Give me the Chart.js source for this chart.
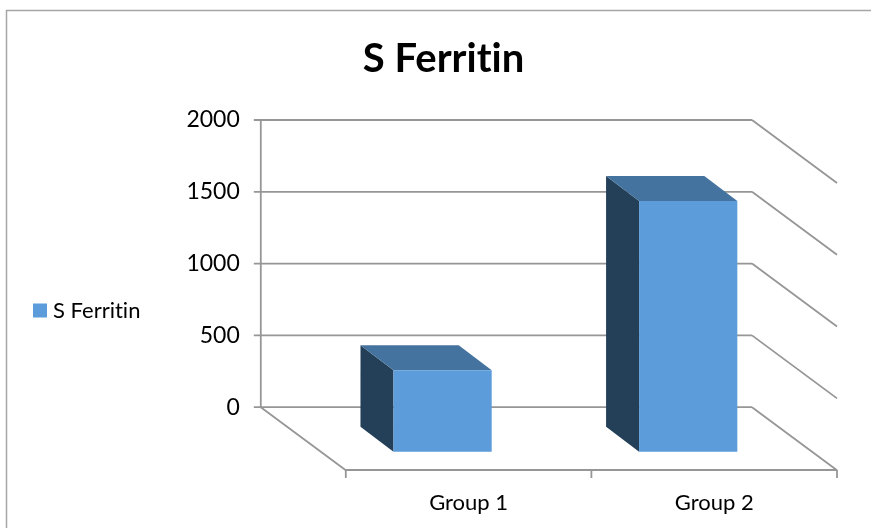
<!DOCTYPE html>
<html>
<head>
<meta charset="utf-8">
<style>
  html, body { margin: 0; padding: 0; background: #fff; }
  #wrap { width: 871px; height: 528px; position: relative; }
</style>
</head>
<body>
<div id="wrap"><canvas id="chart" width="871" height="528"></canvas></div>
<script src="https://cdn.jsdelivr.net/npm/chart.js@4"></script>
<script>
var categories = ["Group 1", "Group 2"];
var seriesName = "S Ferritin";
var ferritin = [570, 1750];
var yTicks = [0, 500, 1000, 1500, 2000];

var AXIS = "#969696";
// offsets of the fake 3D box, in px
var WALL_DX = -85, WALL_DY = -63;   // back wall relative to front floor edge
var BAR_DX = -26, BAR_DY = 45;      // front face of bar relative to scale position
var DEPTH_DX = -33, DEPTH_DY = -25; // bar depth

function line(ctx, x1, y1, x2, y2) {
    ctx.beginPath();
    ctx.moveTo(x1, y1);
    ctx.lineTo(x2, y2);
    ctx.stroke();
}

function poly(ctx, pts, color) {
    ctx.fillStyle = color;
    ctx.beginPath();
    pts.forEach(function (p, i) {
        if (i === 0) ctx.moveTo(p[0], p[1]); else ctx.lineTo(p[0], p[1]);
    });
    ctx.closePath();
    ctx.fill();
}

var box3d = {
    id: "box3d",
    afterLayout: function (chart) {
        // title is centred a bit right of the canvas, legend a bit under the plot middle
        chart.titleBlock.left += 18;
        chart.legend.top += 93;
    },
    beforeDatasetsDraw: function (chart) {
        var ctx = chart.ctx, x = chart.scales.x, y = chart.scales.y;
        var wallL = x.left + WALL_DX, wallR = x.right + WALL_DX;
        ctx.save();
        ctx.strokeStyle = AXIS;
        ctx.lineWidth = 1.8;
        // walls, floor and side lines
        yTicks.forEach(function (t) {
            var py = y.getPixelForValue(t);
            line(ctx, wallL - 7, py, wallR, py);
            line(ctx, wallR, py, x.right, py - WALL_DY);
        });
        var top = y.getPixelForValue(yTicks[yTicks.length - 1]);
        var zero = y.getPixelForValue(0);
        line(ctx, wallL, top, wallL, zero);
        line(ctx, wallL, zero, x.left, zero - WALL_DY);
        line(ctx, x.left, x.top, x.right, x.top);
        // category ticks on the front edge
        for (var i = 0; i <= categories.length; i++) {
            var px = x.left + (x.right - x.left) * i / categories.length;
            line(ctx, px, x.top, px, x.top + 8);
        }
        // side and top faces of the bars
        chart.getDatasetMeta(0).data.forEach(function (bar) {
            var l = bar.x - bar.width / 2 + BAR_DX, r = bar.x + bar.width / 2 + BAR_DX;
            var t = bar.y + BAR_DY, b = bar.base + BAR_DY;
            poly(ctx, [[l, t], [l + DEPTH_DX, t + DEPTH_DY], [l + DEPTH_DX, b + DEPTH_DY], [l, b]], "#243F58");
            poly(ctx, [[l, t], [l + DEPTH_DX, t + DEPTH_DY], [r + DEPTH_DX, t + DEPTH_DY], [r, t]], "#44739F");
        });
        ctx.restore();
    },
    beforeDatasetDraw: function (chart) {
        chart.ctx.save();
        chart.ctx.translate(BAR_DX, BAR_DY);
    },
    afterDatasetDraw: function (chart) {
        chart.ctx.restore();
    }
};

// outer frame of the picture
var frame = {
    id: "frame",
    beforeDraw: function (chart) {
        var ctx = chart.ctx;
        ctx.textRendering = "optimizeSpeed"; // no "ti" ligature in Lato
        ctx.save();
        ctx.strokeStyle = "#A6A6A6";
        ctx.lineWidth = 1.5;
        ctx.beginPath();
        ctx.moveTo(6.5, 528);
        ctx.lineTo(6.5, 10.5);
        ctx.lineTo(871, 10.5);
        ctx.stroke();
        ctx.restore();
    }
};

new Chart(document.getElementById("chart"), {
    type: "bar",
    plugins: [frame, box3d],
    data: {
        labels: categories,
        datasets: [{
            label: seriesName,
            data: ferritin,
            backgroundColor: "#5D9CDA",
            barPercentage: 0.4,
            categoryPercentage: 1,
            clip: false
        }]
    },
    options: {
        responsive: false,
        animation: false,
        layout: { padding: { top: 0, right: 34, bottom: 0, left: 32 } },
        plugins: {
            tooltip: { enabled: false },
            title: {
                display: true,
                text: seriesName,
                color: "#000",
                font: { family: "Lato", size: 40, weight: "bold" },
                padding: { top: 35, bottom: 37 }
            },
            legend: {
                position: "left",
                labels: {
                    color: "#000",
                    font: { family: "Lato", size: 22 },
                    boxWidth: 4,
                    boxHeight: 4,
                    padding: 6,
                    // thick outline so the text sits close to the swatch
                    generateLabels: function (chart) {
                        return Chart.defaults.plugins.legend.labels.generateLabels(chart).map(function (item) {
                            item.lineWidth = 10;
                            item.strokeStyle = item.fillStyle;
                            return item;
                        });
                    }
                }
            }
        },
        scales: {
            x: {
                grid: { display: false },
                border: { display: false },
                afterFit: function (axis) { axis.height = 58; },
                ticks: { color: "#000", font: { family: "Lato", size: 22 }, padding: 12 }
            },
            y: {
                min: -437.5,
                max: 2000,
                // long invisible tick pushes the labels left of the back wall
                grid: { display: true, drawOnChartArea: false, tickLength: 106, tickColor: "transparent" },
                border: { display: false },
                afterFit: function (axis) { axis.width = 195; },
                afterBuildTicks: function (axis) {
                    axis.ticks = yTicks.map(function (v) { return { value: v }; });
                },
                ticks: {
                    color: "#000",
                    font: { family: "Lato", size: 23 },
                    padding: 0,
                    callback: function (v) { return String(v); }
                }
            }
        }
    }
});
</script>
</body>
</html>
